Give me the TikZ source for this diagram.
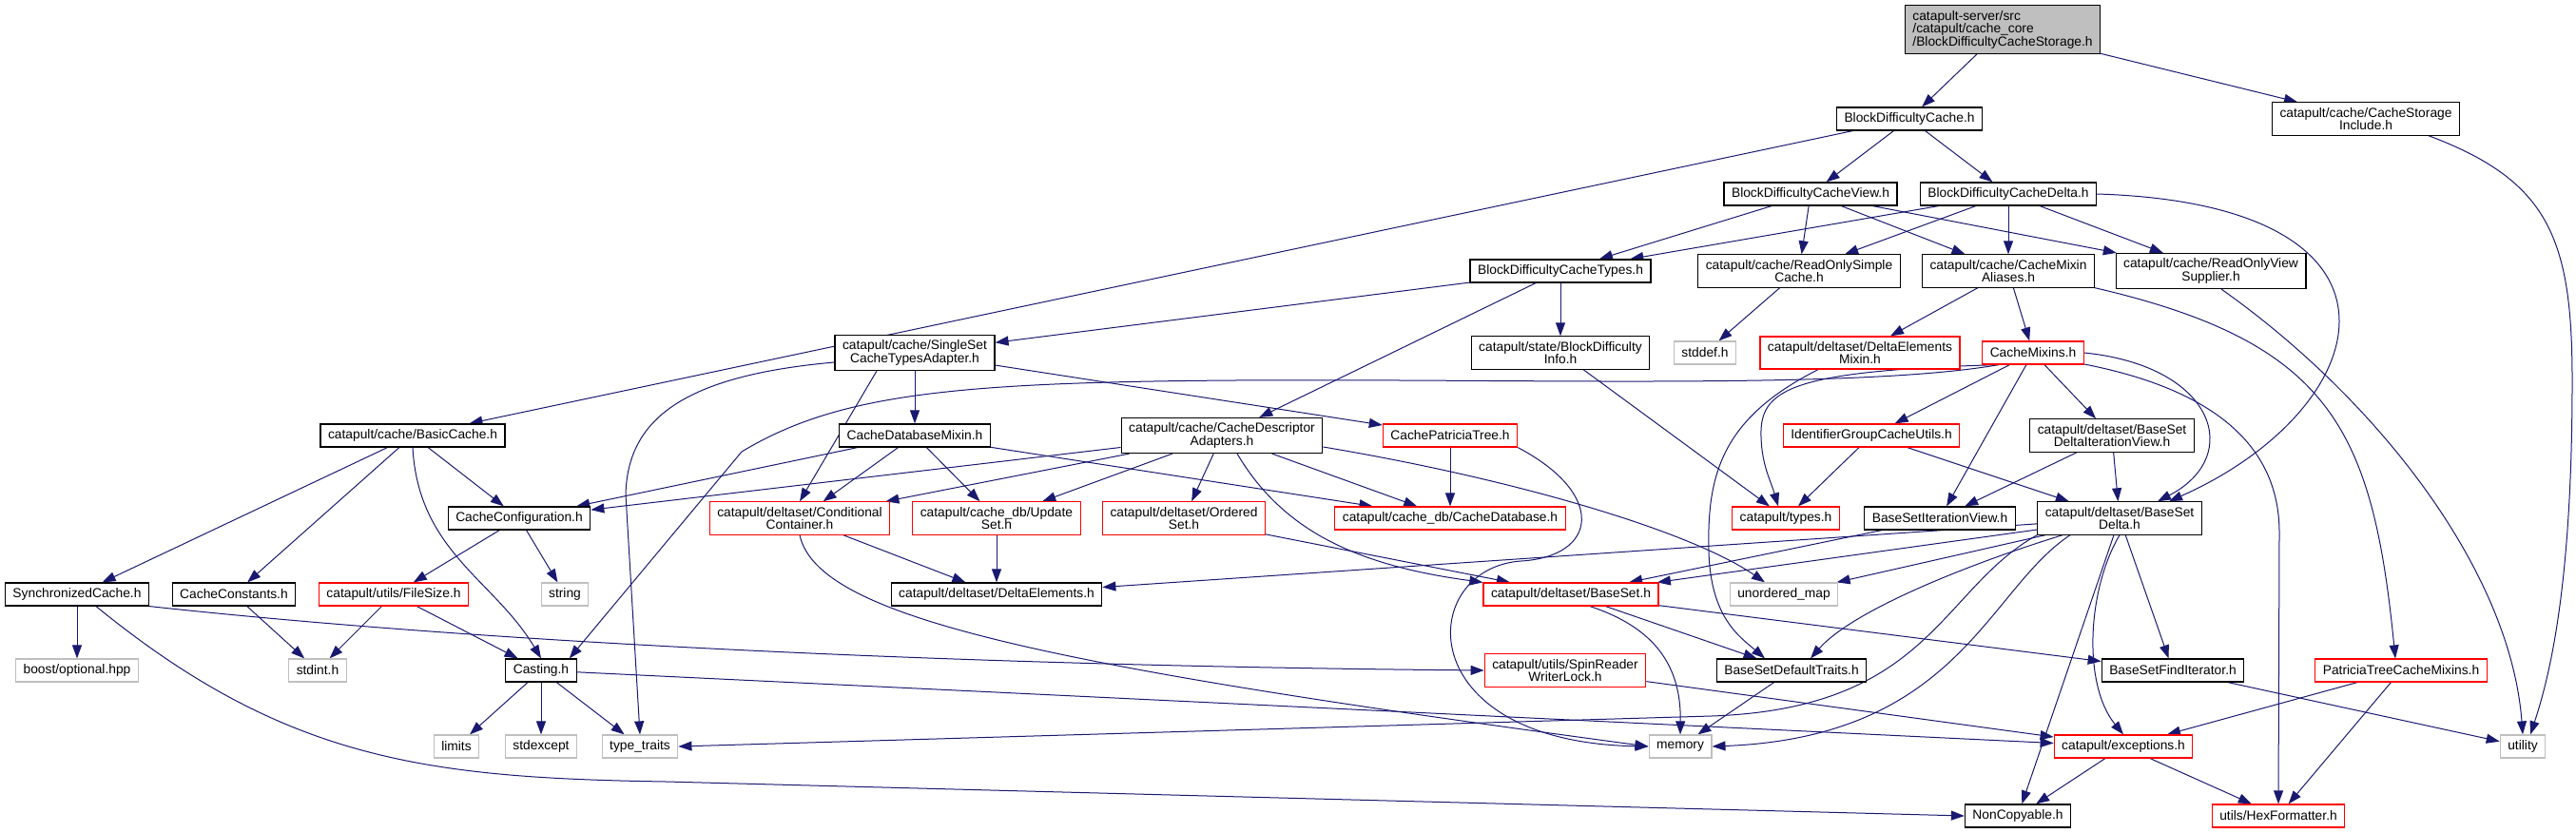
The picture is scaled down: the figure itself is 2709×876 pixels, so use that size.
\documentclass[tikz,border=0pt]{standalone}
\usepackage{fontspec}
\setmainfont{Liberation Sans}
\usepackage{xcolor}
\definecolor{Edge}{HTML}{191970}
\definecolor{Grey}{HTML}{BFBFBF}
\usepackage{tikz}
\usetikzlibrary{arrows.meta,backgrounds}

\begin{document}
\begin{tikzpicture}[x=0.5pt,y=-0.5pt,
  box/.style={draw=black,line width=0.6pt,fill=white,inner xsep=4pt,inner ysep=2.65pt,
    minimum height=12pt,align=center,font=\fontsize{6.9}{6.75}\selectfont},
  trunc/.style={box,draw=red},
  sys/.style={box,draw=Grey},
  dep/.style={draw=Edge,line width=0.5pt,-{Triangle[length=7pt,width=5pt]}}]
\useasboundingbox (0,0) rectangle (2709,876);
% headers
\node[box,fill=Grey,align=left] (storage) at (2106,31) {catapult-server/src\\/catapult/cache\_core\\/BlockDifficultyCacheStorage.h};
\node[box] (bdc) at (2008,125) {BlockDifficultyCache.h};
\node[box] (csi) at (2488,125) {catapult/cache/CacheStorage\\Include.h};
\node[box] (view) at (1904,204) {BlockDifficultyCacheView.h};
\node[box] (delta) at (2112,204) {BlockDifficultyCacheDelta.h};
\node[box] (types) at (1641,285) {BlockDifficultyCacheTypes.h};
\node[box] (roSimple) at (1892,285) {catapult/cache/ReadOnlySimple\\Cache.h};
\node[box] (mixinAliases) at (2112,285) {catapult/cache/CacheMixin\\Aliases.h};
\node[box] (roView) at (2325,285) {catapult/cache/ReadOnlyView\\Supplier.h};
\node[box] (singleSet) at (962,371) {catapult/cache/SingleSet\\CacheTypesAdapter.h};
\node[box] (bdInfo) at (1641,371) {catapult/state/BlockDifficulty\\Info.h};
\node[sys] (stddefH) at (1793,371) {stddef.h};
\node[trunc] (deMixin) at (1956,371) {catapult/deltaset/DeltaElements\\Mixin.h};
\node[trunc] (cacheMixins) at (2138,371) {CacheMixins.h};
\node[box] (basicCache) at (434,458) {catapult/cache/BasicCache.h};
\node[box] (dbMixin) at (962,458) {CacheDatabaseMixin.h};
\node[box] (descAdapters) at (1285,458) {catapult/cache/CacheDescriptor\\Adapters.h};
\node[trunc] (patTree) at (1525,458) {CachePatriciaTree.h};
\node[trunc] (identUtils) at (1968,458) {IdentifierGroupCacheUtils.h};
\node[box] (deltaIterView) at (2221,458) {catapult/deltaset/BaseSet\\DeltaIterationView.h};
\node[box] (cacheConfig) at (546,545) {CacheConfiguration.h};
\node[trunc] (condContainer) at (841,545) {catapult/deltaset/Conditional\\Container.h};
\node[trunc] (updateSet) at (1048,545) {catapult/cache\_db/Update\\Set.h};
\node[trunc] (orderedSet) at (1245,545) {catapult/deltaset/Ordered\\Set.h};
\node[trunc] (cacheDb) at (1525,545) {catapult/cache\_db/CacheDatabase.h};
\node[trunc] (typesH) at (1878,545) {catapult/types.h};
\node[box] (bsIterView) at (2040,545) {BaseSetIterationView.h};
\node[box] (baseSetDelta) at (2229,545) {catapult/deltaset/BaseSet\\Delta.h};
\node[box] (syncCache) at (81,625) {SynchronizedCache.h};
\node[box] (cacheConsts) at (246,625) {CacheConstants.h};
\node[trunc] (fileSize) at (414,625) {catapult/utils/FileSize.h};
\node[sys] (stringH) at (594,625) {string};
\node[box] (deltaElems) at (1048,625) {catapult/deltaset/DeltaElements.h};
\node[trunc] (baseSet) at (1652,625) {catapult/deltaset/BaseSet.h};
\node[sys] (unorderedMap) at (1876,625) {unordered\_map};
\node[sys] (boostOpt) at (81,705) {boost/optional.hpp};
\node[sys] (stdintH) at (334,705) {stdint.h};
\node[box] (casting) at (569,705) {Casting.h};
\node[trunc] (spinLock) at (1646,705) {catapult/utils/SpinReader\\WriterLock.h};
\node[box] (bsDefTraits) at (1884,705) {BaseSetDefaultTraits.h};
\node[box] (bsFindIter) at (2285,705) {BaseSetFindIterator.h};
\node[trunc] (patMixins) at (2525,705) {PatriciaTreeCacheMixins.h};
\node[sys] (limitsH) at (480,785) {limits};
\node[sys] (stdexceptH) at (569,785) {stdexcept};
\node[sys] (typeTraits) at (673,785) {type\_traits};
\node[sys] (memoryH) at (1767,785) {memory};
\node[trunc] (exceptionsH) at (2233,785) {catapult/exceptions.h};
\node[sys] (utilityH) at (2653,785) {utility};
\node[box] (nonCopyable) at (2122,858) {NonCopyable.h};
\node[trunc] (hexFmt) at (2396,858) {utils/HexFormatter.h};
% includes
\begin{scope}[on background layer]
\foreach \a/\b in {storage/bdc,storage/csi,bdc/basicCache,bdc/view,bdc/delta,
  view/types,view/roSimple,view/mixinAliases,view/roView,
  delta/types,delta/roSimple,delta/mixinAliases,delta/roView,
  roSimple/stddefH,mixinAliases/deMixin,mixinAliases/cacheMixins,
  types/singleSet,types/descAdapters,types/bdInfo,
  singleSet/dbMixin,singleSet/patTree,bdInfo/typesH,
  basicCache/syncCache,basicCache/cacheConsts,basicCache/cacheConfig,
  dbMixin/cacheConfig,dbMixin/condContainer,dbMixin/updateSet,dbMixin/cacheDb,
  descAdapters/cacheConfig,descAdapters/condContainer,descAdapters/updateSet,
  descAdapters/orderedSet,descAdapters/cacheDb,patTree/cacheDb,
  cacheMixins/identUtils,cacheMixins/bsIterView,cacheMixins/deltaIterView,
  identUtils/typesH,identUtils/baseSetDelta,
  deltaIterView/bsIterView,deltaIterView/baseSetDelta,
  cacheConfig/fileSize,cacheConfig/stringH,
  condContainer/deltaElems,updateSet/deltaElems,orderedSet/baseSet,bsIterView/baseSet,
  baseSetDelta/deltaElems,baseSetDelta/unorderedMap,baseSetDelta/baseSet,
  baseSetDelta/nonCopyable,baseSetDelta/bsFindIter,
  syncCache/boostOpt,cacheConsts/stdintH,fileSize/stdintH,fileSize/casting,
  casting/limitsH,casting/stdexceptH,casting/typeTraits,casting/exceptionsH,
  baseSet/bsDefTraits,baseSet/bsFindIter,spinLock/exceptionsH,bsDefTraits/memoryH,
  bsFindIter/utilityH,patMixins/exceptionsH,patMixins/hexFmt,
  exceptionsH/nonCopyable,exceptionsH/hexFmt}
  \draw[dep] (\a) -- (\b);
\draw[dep] ([xshift=-20pt]singleSet.south) -- (condContainer.north);
\draw[dep] ([yshift=-5pt]singleSet.west) .. controls (720,395) and (660,440) .. (658,520) -- (typeTraits.north);
\draw[dep] (basicCache.south) .. controls (440,580) and (520,610) .. (casting.north);
\draw[dep] ([xshift=8pt]descAdapters.south) .. controls (1350,560) and (1430,595) .. (baseSet.north west);
\draw[dep] ([yshift=-6pt]descAdapters.east) .. controls (1600,505) and (1780,560) .. ([xshift=-10pt]unorderedMap.north);
\draw[dep] (patTree.south east) .. controls (1690,520) and (1680,585) .. (1600,590)
  .. controls (1490,597) and (1480,780) .. (memoryH.west);
\draw[dep] ([xshift=-18pt]cacheMixins.south) .. controls (1880,390) and (1850,410) .. (1852,460)
  .. controls (1853,490) and (1862,505) .. ([xshift=-4pt]typesH.north);
\draw[dep] ([xshift=-18pt]cacheMixins.south) .. controls (1950,410) and (1600,398) .. (1300,400)
  .. controls (1000,402) and (880,415) .. (780,475) -- ([xshift=-4pt]casting.north east);
\draw[dep] (cacheMixins.east) .. controls (2330,385) and (2360,480) .. ([xshift=20pt]baseSetDelta.north);
\draw[dep] ([yshift=-6pt]cacheMixins.east) .. controls (2330,410) and (2397,470) .. (2397,560) -- (hexFmt.north);
\draw[dep] (delta.east) .. controls (2560,215) and (2500,430) .. ([xshift=26pt]baseSetDelta.north);
\draw[dep] ([xshift=-22pt]deMixin.south) .. controls (1810,440) and (1795,500) .. (1797,580)
  .. controls (1799,650) and (1830,670) .. ([xshift=-14pt]bsDefTraits.north);
\draw[dep] (mixinAliases.south east) .. controls (2450,360) and (2495,450) .. ([xshift=-3pt]patMixins.north);
\draw[dep] (roView.-60) .. controls (2500,420) and (2640,600) .. (utilityH.north);
\draw[dep] ([xshift=33pt]csi.south) .. controls (2680,190) and (2705,250) .. (2705,400)
  .. controls (2705,600) and (2685,700) .. ([xshift=4pt]utilityH.north);
\draw[dep] (condContainer.south) .. controls (860,650) and (1100,700) .. (memoryH.west);
\draw[dep] (baseSetDelta.south west) .. controls (2040,620) and (2030,745) .. (1800,753) -- (typeTraits.east);
\draw[dep] ([xshift=-26pt]baseSetDelta.south) .. controls (2090,620) and (2060,775) .. (memoryH.east);
\draw[dep] (baseSetDelta.south) .. controls (2195,620) and (2190,720) .. (exceptionsH.north);
\draw[dep] ([xshift=-30pt]baseSetDelta.south) .. controls (2080,590) and (1950,640) .. ([xshift=10pt]bsDefTraits.north);
\draw[dep] ([xshift=10pt]baseSet.south) .. controls (1740,660) and (1768,700) .. (memoryH.north);
\draw[dep] ([xshift=10pt]syncCache.south) .. controls (300,800) and (450,818) .. (700,822) -- (nonCopyable.west);
\draw[dep] (syncCache.south east) .. controls (500,675) and (1000,700) .. (spinLock.west);
\end{scope}
\end{tikzpicture}
\end{document}
